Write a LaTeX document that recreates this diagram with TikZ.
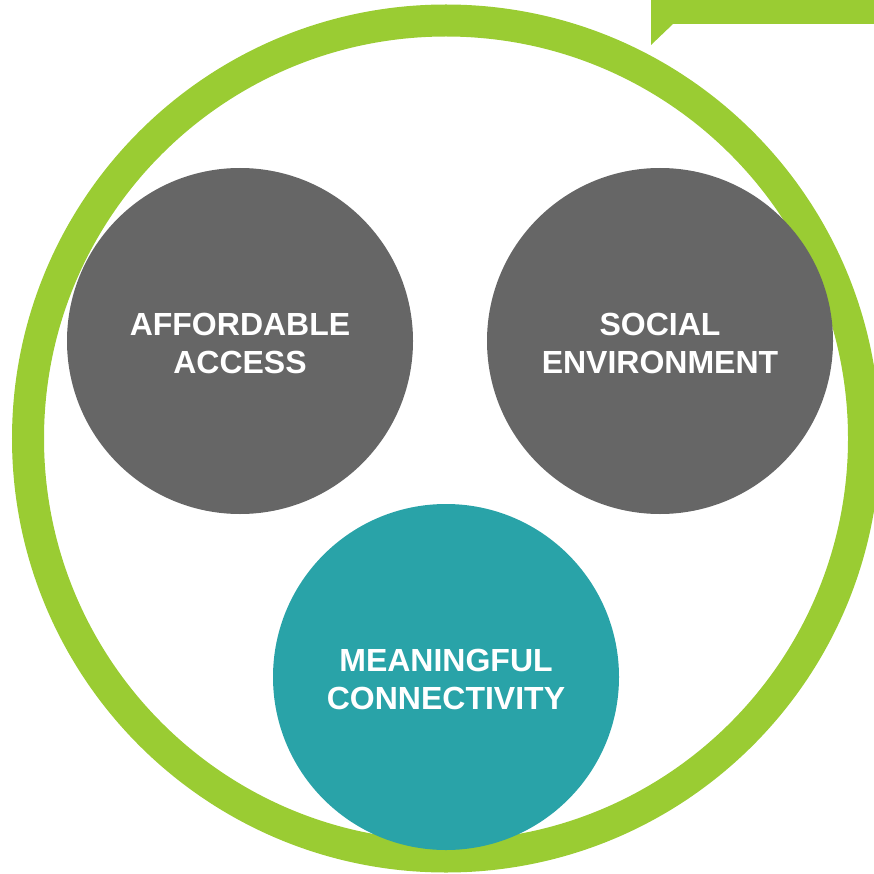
\documentclass[tikz,border=0pt]{standalone}
\usepackage{fontspec}
\setmainfont{Liberation Sans}
\definecolor{ringgreen}{RGB}{154,204,51}
\definecolor{bubblegray}{RGB}{102,102,102}
\definecolor{bubbleteal}{RGB}{41,163,168}
\tikzset{
  bubble/.style={circle, inner sep=0pt, minimum size=346pt},
  bubbletext/.style={align=center, inner sep=0pt, yshift=-2pt,
    text=white, font=\fontsize{32}{38}\selectfont\bfseries},
}
\begin{document}
\begin{tikzpicture}[x=1pt,y=1pt]
\useasboundingbox (0,0) rectangle (874,-874);
% outer ring
\draw[line width=32pt, ringgreen] (446,-438.5) circle (418pt);
% callout tab at top right
\fill[ringgreen] (651,0) -- (874,0) -- (874,-24) -- (673,-24) -- (651,-45) -- cycle;
% bubbles
\node[bubble, fill=bubblegray] (afford) at (240,-341) {};
\node[bubble, fill=bubblegray] (social) at (660,-341) {};
\node[bubble, fill=bubbleteal] (meaning) at (446,-677) {};
\node[bubbletext] (affordtext) at (afford.center) {AFFORDABLE\\ACCESS};
\node[bubbletext] (socialtext) at (social.center) {SOCIAL\\ENVIRONMENT};
\node[bubbletext] (meaningtext) at (meaning.center) {MEANINGFUL\\CONNECTIVITY};
\end{tikzpicture}
\end{document}
